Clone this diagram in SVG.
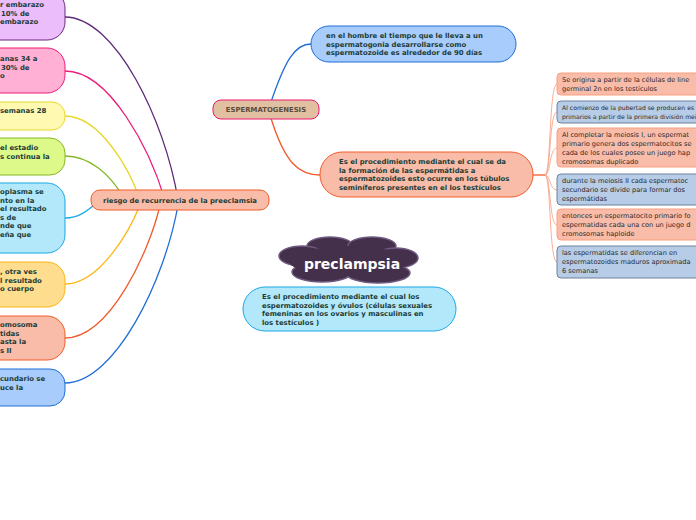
<svg xmlns="http://www.w3.org/2000/svg" width="696" height="520" viewBox="0 0 696 520">
<style>
.t{font-family:"DejaVu Sans",Verdana,sans-serif;font-weight:bold;font-size:6.9px;fill:#1d3b36}
.r{font-family:"DejaVu Sans",Verdana,sans-serif;font-size:6.6px;fill:#2a2a2a}
.c{fill:none;stroke-width:1.3}
.rc{fill:none;stroke:#f8a58a;stroke-width:0.9}
.sal{fill:#f9bca8;stroke:#f9a080;stroke-width:1}
.gb{fill:#b7cce6;stroke:#6f819c;stroke-width:1}
</style>
<rect width="696" height="520" fill="#ffffff"/>
<g id="connectors">
<path class="c" stroke="#5d2a78" d="M65,17 C115,17 165,120 178,200"/>
<path class="c" stroke="#ec1a78" d="M65,71 C110,71 150,150 165,200"/>
<path class="c" stroke="#e8d82a" d="M65,116 C100,116 130,170 140,200"/>
<path class="c" stroke="#86b825" d="M65,156 C90,156 110,175 122,195"/>
<path class="c" stroke="#19a8e8" d="M65,218 C80,218 88,210 100,200"/>
<path class="c" stroke="#ffb50f" d="M65,284 C100,284 130,230 140,205"/>
<path class="c" stroke="#f25a2a" d="M65,338 C110,338 150,250 160,205"/>
<path class="c" stroke="#1e6ed6" d="M65,383 C115,383 165,280 178,205"/>
<path class="c" stroke="#1e6ed6" d="M270,105 C285,60 295,44 311,44"/>
<path class="c" stroke="#f25a2a" d="M270,115 C285,165 300,175 320,175"/>
<path class="c" stroke="#f25a2a" d="M533,175 L545,175"/>
<path class="rc" d="M545,175 C551,175 549,84 557,84"/>
<path class="rc" d="M545,175 C551,175 549,112 557,112"/>
<path class="rc" d="M545,175 C551,175 549,148 557,148"/>
<path class="rc" d="M545,175 C551,175 549,190 557,190"/>
<path class="rc" d="M545,175 C551,175 549,225 557,225"/>
<path class="rc" d="M545,175 C551,175 549,262 557,262"/>
</g>
<g id="l1"><rect x="-120" y="-10" width="185" height="50" rx="18" fill="#ebbdfa" stroke="#6a2b7f"/>
<text class="t"><tspan x="0" y="7">r embarazo</tspan><tspan x="1" y="15.5">10% de</tspan><tspan x="0" y="24">embarazo</tspan></text></g>
<g id="l2"><rect x="-120" y="48" width="185" height="45" rx="18" fill="#ffb0d4" stroke="#ec1a78"/>
<text class="t"><tspan x="0" y="61">anas 34 a</tspan><tspan x="1" y="69.5">30% de</tspan><tspan x="0" y="78">o</tspan></text></g>
<g id="l3"><rect x="-120" y="102" width="185" height="28" rx="13" fill="#fff9b2" stroke="#e8d82a"/>
<text class="t"><tspan x="0" y="113">semanas 28</tspan></text></g>
<g id="l4"><rect x="-120" y="138" width="185" height="37" rx="15" fill="#dcf98a" stroke="#86b825"/>
<text class="t"><tspan x="0" y="150">el estadio</tspan><tspan x="0" y="158.5">s continua la</tspan></text></g>
<g id="l5"><rect x="-120" y="183" width="185" height="70" rx="18" fill="#b2e8fa" stroke="#19a8e8"/>
<text class="t"><tspan x="0" y="194">oplasma se</tspan><tspan x="0" y="202.5">nto en la</tspan><tspan x="0" y="211">el resultado</tspan><tspan x="0" y="219.5">s de</tspan><tspan x="0" y="228">nde que</tspan><tspan x="0" y="236.5">eña que</tspan></text></g>
<g id="l6"><rect x="-120" y="262" width="185" height="45" rx="18" fill="#fedd8f" stroke="#ffb50f"/>
<text class="t"><tspan x="0" y="274">, otra ves</tspan><tspan x="0" y="282.5">l resultado</tspan><tspan x="0" y="291">o cuerpo</tspan></text></g>
<g id="l7"><rect x="-120" y="316" width="185" height="44" rx="18" fill="#f9bca8" stroke="#f25a2a"/>
<text class="t"><tspan x="0" y="327">omosoma</tspan><tspan x="0" y="335.5">tidas</tspan><tspan x="0" y="344">asta la</tspan><tspan x="0" y="352.5">s II</tspan></text></g>
<g id="l8"><rect x="-120" y="369" width="185" height="37" rx="15" fill="#a8ccfc" stroke="#1e6ed6"/>
<text class="t"><tspan x="0" y="381">cundario se</tspan><tspan x="0" y="389.5">uce la</tspan></text></g>
<g id="riesgo"><rect x="91" y="190" width="178" height="20" rx="9" fill="#f9bca8" stroke="#f25a2a"/>
<text class="t" x="180" y="202.5" text-anchor="middle">riesgo de recurrencia de la preeclamsia</text></g>
<g id="esperm"><rect x="213" y="100" width="106" height="19" rx="8" fill="#e0c0a0" stroke="#e8186e"/>
<text class="t" x="266" y="112" text-anchor="middle" style="fill:#5a4a3c">ESPERMATOGENESIS</text></g>
<g id="hombre"><rect x="311" y="26" width="205" height="36" rx="18" fill="#a8ccfc" stroke="#1e6ed6"/>
<text class="t"><tspan x="326" y="38">en el hombre el tiempo que le lleva a un</tspan><tspan x="326" y="46.5">espermatogonia desarrollarse como</tspan><tspan x="326" y="55">espermatozoide es alrededor de 90 días</tspan></text></g>
<g id="proc"><rect x="320" y="152" width="213" height="45" rx="22" fill="#f9bca8" stroke="#f25a2a"/>
<text class="t"><tspan x="339" y="164">Es el  procedimiento mediante el cual se da</tspan><tspan x="339" y="172.5">la formación de las espermátidas a</tspan><tspan x="339" y="181">espermatozoides esto ocurre en los túbulos</tspan><tspan x="339" y="189.5">seminíferos presentes en el los testículos</tspan></text></g>
<g id="r1"><rect class="sal" x="557" y="73" width="160" height="22" rx="4"/>
<text class="r"><tspan x="562" y="82">Se origina a partir de la células de line</tspan><tspan x="562" y="91">germinal 2n en los testículos</tspan></text></g>
<g id="r2"><rect class="gb" x="557" y="101" width="160" height="22" rx="4"/>
<text class="r" style="font-size:6.1px"><tspan x="562" y="110">Al comienzo de la pubertad se producen es</tspan><tspan x="562" y="119">primarios a partir de la primera división mei</tspan></text></g>
<g id="r3"><rect class="sal" x="557" y="128" width="160" height="39" rx="4"/>
<text class="r"><tspan x="562" y="137">Al completar la meiosis I, un espermat</tspan><tspan x="562" y="146">primario genera dos espermatocitos se</tspan><tspan x="562" y="155">cada de los cuales posee un juego hap</tspan><tspan x="562" y="164">cromosomas duplicado</tspan></text></g>
<g id="r4"><rect class="gb" x="557" y="174" width="160" height="31" rx="4"/>
<text class="r"><tspan x="562" y="183">durante la meiosis II cada espermatoc</tspan><tspan x="562" y="192">secundario se divide para formar dos</tspan><tspan x="562" y="201">espermátidas</tspan></text></g>
<g id="r5"><rect class="sal" x="557" y="209" width="160" height="31" rx="4"/>
<text class="r"><tspan x="562" y="218">entonces un espermatocito primario fo</tspan><tspan x="562" y="227">espermatidas cada una con un juego d</tspan><tspan x="562" y="236">cromosomas haploide</tspan></text></g>
<g id="r6"><rect class="gb" x="557" y="246" width="160" height="32" rx="4"/>
<text class="r"><tspan x="562" y="255">las  espermatidas se diferencian en</tspan><tspan x="562" y="264">espermatozoides maduros aproximada</tspan><tspan x="562" y="273">6 semanas</tspan></text></g>
<g id="preclampsia">
<g fill="#45304b" stroke="#6e5a80" stroke-width="1.5">
<ellipse cx="330" cy="246" rx="23" ry="9"/>
<ellipse cx="372" cy="246" rx="24" ry="9"/>
<ellipse cx="302" cy="256" rx="23" ry="10"/>
<ellipse cx="396" cy="258" rx="22" ry="10"/>
<ellipse cx="322" cy="272" rx="30" ry="10"/>
<ellipse cx="378" cy="273" rx="32" ry="10"/>
</g>
<ellipse cx="349" cy="261" rx="60" ry="15" fill="#45304b"/>
<text x="352" y="269" text-anchor="middle" style="font-family:'DejaVu Sans',Verdana,sans-serif;font-weight:bold;font-size:14px;fill:#ffffff">preclampsia</text>
</g>
<g id="ovulos"><rect x="243" y="287" width="213" height="44" rx="22" fill="#b2e8fa" stroke="#19a8e8"/>
<text class="t"><tspan x="262" y="299">Es el procedimiento mediante el cual los</tspan><tspan x="262" y="307.5">espermatozoides y óvulos (células sexuales</tspan><tspan x="262" y="316">femeninas en los ovarios y masculinas en</tspan><tspan x="262" y="324.5">los testículos )</tspan></text></g>
</svg>
